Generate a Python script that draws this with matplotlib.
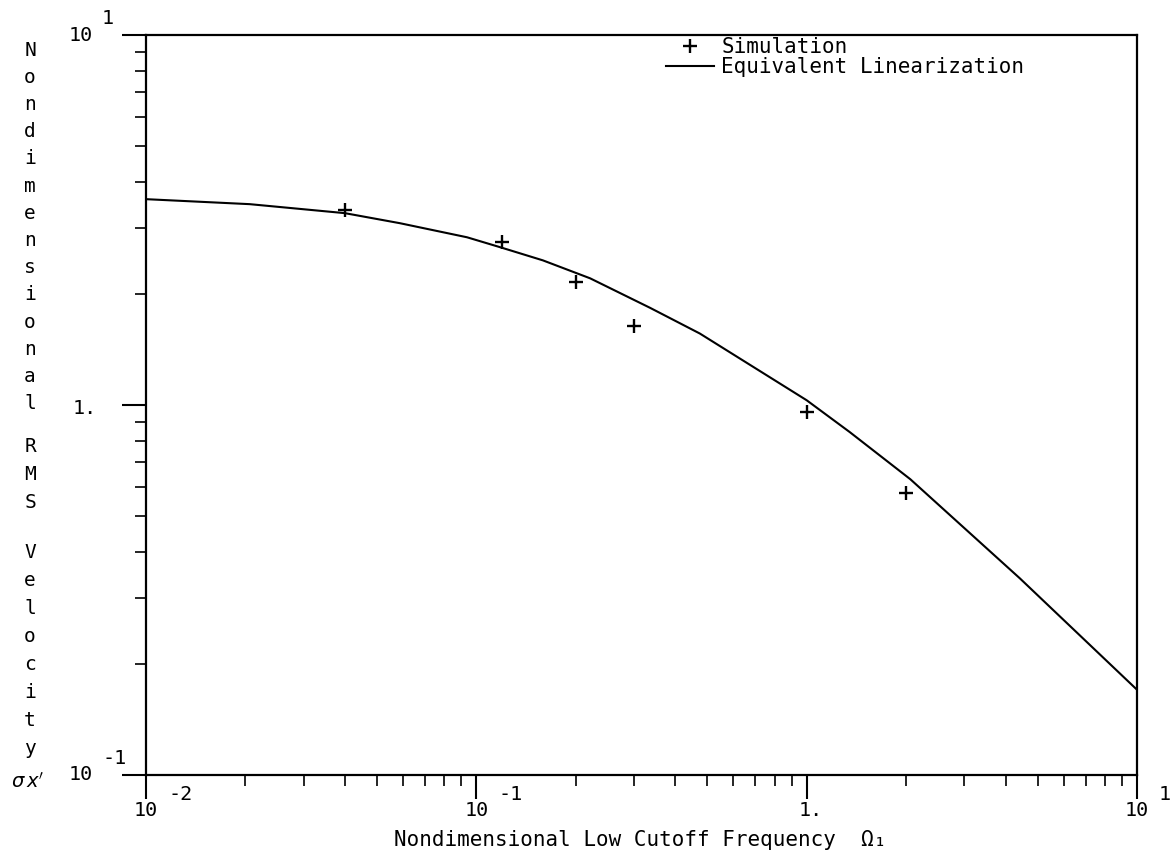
import matplotlib
matplotlib.use('Agg')
import matplotlib.pyplot as plt
import numpy as np
from matplotlib.ticker import LogLocator, NullFormatter, FixedLocator

# ---------------- data ----------------
sim_x = [0.04, 0.12, 0.2, 0.3, 1.0, 2.0]
sim_y = [3.36, 2.76, 2.15, 1.64, 0.96, 0.58]

eq_x = [0.01, 0.0206, 0.04, 0.0587, 0.0937, 0.118, 0.159, 0.221, 0.336,
        0.475, 1.0, 1.35, 2.06, 4.42, 10.0]
eq_y = [3.60, 3.49, 3.30, 3.10, 2.84, 2.67, 2.46, 2.20, 1.83,
        1.56, 1.03, 0.845, 0.63, 0.34, 0.17]

x_ticks = [0.01, 0.1, 1.0, 10.0]
x_tick_base = ['10', '10', '1.', '10']
x_tick_exp = ['-2', '-1', '', '1']
y_ticks = [0.1, 1.0, 10.0]
y_tick_base = ['10', '1.', '10']
y_tick_exp = ['-1', '', '1']

ylabel_words = ['Nondimensional', 'RMS', 'Velocity']
ylabel_symbol = r"$\sigma\, x'$"
xlabel = 'Nondimensional Low Cutoff Frequency  Ω₁'
legend_labels = ['Simulation', 'Equivalent Linearization']

# ---------------- style ----------------
MONO = ['DejaVu Sans Mono', 'DejaVu Sans']
FS = 14.5
W, H = 1176, 860

fig = plt.figure(figsize=(W / 100, H / 100), dpi=100)
fig.patch.set_facecolor('white')
ax = fig.add_axes([146 / W, 1 - 775 / H, 991 / W, 740 / H])
ax.set_xscale('log')
ax.set_yscale('log')
ax.set_xlim(0.01, 10)
ax.set_ylim(0.1, 10)

line_eq, = ax.plot(eq_x, eq_y, color='black', lw=1.5, solid_joinstyle='round')
pts_sim, = ax.plot(sim_x, sim_y, ls='none', marker='+', ms=10, mew=1.7,
                   color='black')

for s in ax.spines.values():
    s.set_linewidth(1.6)

ax.xaxis.set_major_locator(FixedLocator(x_ticks))
ax.yaxis.set_major_locator(FixedLocator(y_ticks))
ax.xaxis.set_minor_locator(LogLocator(base=10, subs=np.arange(2, 10)))
ax.yaxis.set_minor_locator(LogLocator(base=10, subs=np.arange(2, 10)))
ax.xaxis.set_minor_formatter(NullFormatter())
ax.yaxis.set_minor_formatter(NullFormatter())
ax.tick_params(which='major', direction='out', length=17, width=1.5,
               labelbottom=False, labelleft=False, top=False, right=False)
ax.tick_params(which='minor', direction='out', length=8, width=1.2,
               top=False, right=False)

# ---------------- tick labels (plotter style, exponent raised) ----------------
for v, b, e in zip(x_ticks, x_tick_base, x_tick_exp):
    dx = 4 if b.endswith('.') else 0
    ax.annotate(b, xy=(v, H - 810), xycoords=('data', 'figure pixels'),
                xytext=(dx, 0), textcoords='offset pixels',
                ha='center', va='center', fontsize=FS, family=MONO)
    if e:
        ax.annotate(e, xy=(v, H - 810), xycoords=('data', 'figure pixels'),
                    xytext=(22, 16), textcoords='offset pixels',
                    ha='left', va='center', fontsize=FS, family=MONO)

for v, b, e in zip(y_ticks, y_tick_base, y_tick_exp):
    dx = 4 if b.endswith('.') else 0
    ax.annotate(b, xy=(81, v), xycoords=('figure pixels', 'data'),
                xytext=(dx, -3 if not e else 0), textcoords='offset pixels',
                ha='center', va='center', fontsize=FS, family=MONO)
    if e:
        ax.annotate(e, xy=(81, v), xycoords=('figure pixels', 'data'),
                    xytext=(21, 17), textcoords='offset pixels',
                    ha='left', va='center', fontsize=FS, family=MONO)

# ---------------- axis labels ----------------
starts = [50, 446, 552]
steps = [27.2, 28.5, 28.0]
for word, y0, st in zip(ylabel_words, starts, steps):
    for i, ch in enumerate(word):
        fig.text(30 / W, 1 - (y0 + i * st) / H, ch, ha='center', va='center',
                 fontsize=14, family=MONO)
fig.text(28 / W, 1 - 782 / H, ylabel_symbol, ha='center', va='center',
         fontsize=14)

fig.text(640 / W, 1 - 840 / H, xlabel, ha='center', va='center',
         fontsize=15, family=MONO)

# ---------------- legend ----------------
leg = ax.legend([pts_sim, line_eq], legend_labels, loc='upper left',
                bbox_to_anchor=(666 / W, 1 - 37 / H),
                bbox_transform=fig.transFigure, frameon=False,
                borderpad=0, borderaxespad=0, handlelength=2.3,
                handletextpad=0.35, labelspacing=0.0,
                prop={'family': MONO, 'size': 15})

fig.savefig('out.png', dpi=100, facecolor='white')
